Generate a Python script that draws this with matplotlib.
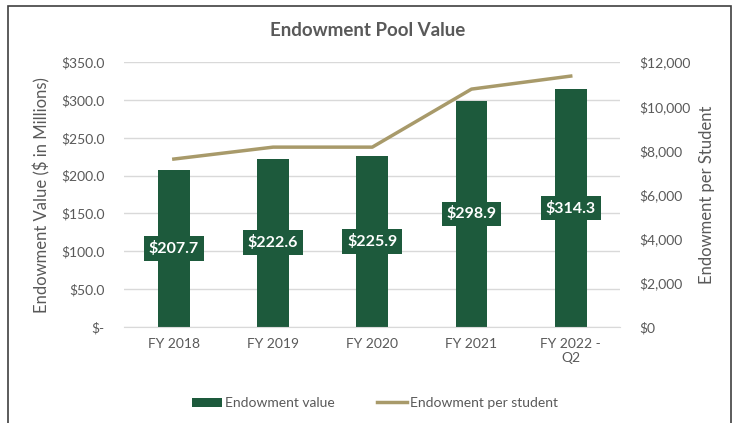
import matplotlib
matplotlib.use('Agg')
import matplotlib.pyplot as plt
from matplotlib.patches import Rectangle
from matplotlib.ticker import FuncFormatter

plt.rcParams['font.family'] = ['Lato', 'DejaVu Sans']

# data
years = ['FY 2018', 'FY 2019', 'FY 2020', 'FY 2021', 'FY 2022 -\nQ2']
endowment = [207.7, 222.6, 225.9, 298.9, 314.3]
per_student = [7610, 8150, 8150, 10780, 11370]

green = '#1D5A3C'
gold = '#A89A6A'
grey = '#595959'

fig = plt.figure(figsize=(7.35, 4.23), dpi=100)
ax = fig.add_axes([0.169, 0.227, 0.675, 0.626])
ax2 = ax.twinx()

x = list(range(len(years)))
ax.bar(x, endowment, width=0.32, color=green, label='Endowment value', zorder=2)
ax2.plot(x, per_student, color=gold, lw=2.5, label='Endowment per student', zorder=3)

for xi, v in zip(x, endowment):
    ax.text(xi, v / 2, f'${v:.1f}', ha='center', va='center', color='white',
            fontsize=11.5, fontweight='bold', zorder=4,
            bbox=dict(boxstyle='square,pad=0.3', fc=green, ec='none'))

ax.set_xlim(-0.5, len(years) - 0.5)
ax.set_ylim(0, 350)
ax.set_yticks(range(0, 351, 50))
ax.yaxis.set_major_formatter(FuncFormatter(lambda v, p: '$-' if v == 0 else f'${v:.1f}'))
ax2.set_ylim(0, 12000)
ax2.set_yticks(range(0, 12001, 2000))
ax2.yaxis.set_major_formatter(FuncFormatter(lambda v, p: f'${v:,.0f}'))

ax.set_xticks(x)
ax.set_xticklabels(years)
ax.grid(axis='y', color='#D9D9D9', lw=1, zorder=0)
ax.set_axisbelow(True)

for a in (ax, ax2):
    for s in a.spines.values():
        s.set_visible(False)
    a.tick_params(length=0, colors=grey, labelsize=10)
ax.spines['bottom'].set_visible(True)
ax.spines['bottom'].set_color('#D9D9D9')
ax.tick_params(axis='y', pad=14)
ax2.tick_params(axis='y', pad=14)
ax.tick_params(axis='x', pad=8)

ax.set_ylabel('Endowment Value ($ in Millions)', color=grey, fontsize=12, labelpad=8)
ax2.set_ylabel('Endowment per Student', color=grey, fontsize=12, labelpad=6)

fig.text(0.5, 0.928, 'Endowment Pool Value', ha='center', va='center',
         fontsize=13.5, fontweight='bold', color=grey)

h1, l1 = ax.get_legend_handles_labels()
h2, l2 = ax2.get_legend_handles_labels()
fig.legend(h1 + h2, l1 + l2, loc='center', bbox_to_anchor=(0.51, 0.047), ncol=2,
           frameon=False, fontsize=10, labelcolor=grey, handlelength=2.2,
           handleheight=0.6, handletextpad=0.2, columnspacing=3)

fig.patches.append(Rectangle((0.011, -0.05), 0.983, 1.036, transform=fig.transFigure,
                             fill=False, ec='#404040', lw=1.2))

fig.savefig('out.png', dpi=100)
